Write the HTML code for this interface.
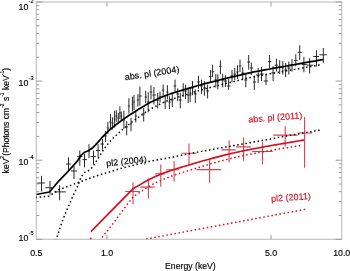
<!DOCTYPE html>
<html><head><meta charset="utf-8"><style>html,body{margin:0;padding:0;background:#fff;width:350px;height:271px;overflow:hidden}svg{display:block;will-change:transform}</style></head>
<body><svg width="350" height="271" viewBox="0 0 350 271"><defs><clipPath id="c"><rect x="36.3" y="2" width="305.4" height="237.3"/></clipPath></defs><rect width="350" height="271" fill="#fff"/><rect x="36.3" y="2.0" width="305.4" height="237.3" fill="none" stroke="#c4c4c4" stroke-width="1.2"/><path d="M36.3,239.30h6M341.7,239.30h-6M36.3,215.49h3M341.7,215.49h-3M36.3,201.56h3M341.7,201.56h-3M36.3,191.68h3M341.7,191.68h-3M36.3,184.01h3M341.7,184.01h-3M36.3,177.75h3M341.7,177.75h-3M36.3,172.45h3M341.7,172.45h-3M36.3,167.87h3M341.7,167.87h-3M36.3,163.82h3M341.7,163.82h-3M36.3,160.20h6M341.7,160.20h-6M36.3,136.39h3M341.7,136.39h-3M36.3,122.46h3M341.7,122.46h-3M36.3,112.58h3M341.7,112.58h-3M36.3,104.91h3M341.7,104.91h-3M36.3,98.65h3M341.7,98.65h-3M36.3,93.35h3M341.7,93.35h-3M36.3,88.77h3M341.7,88.77h-3M36.3,84.72h3M341.7,84.72h-3M36.3,81.10h6M341.7,81.10h-6M36.3,57.29h3M341.7,57.29h-3M36.3,43.36h3M341.7,43.36h-3M36.3,33.48h3M341.7,33.48h-3M36.3,25.81h3M341.7,25.81h-3M36.3,19.55h3M341.7,19.55h-3M36.3,14.25h3M341.7,14.25h-3M36.3,9.67h3M341.7,9.67h-3M36.3,5.62h3M341.7,5.62h-3M36.3,2.00h6M341.7,2.00h-6M106.96,239.3v-4.5M106.96,2.0v4.5M271.04,239.3v-4.5M271.04,2.0v4.5" stroke="#9a9a9a" stroke-width="1.0" fill="none"/><text x="28.4" y="10.3" font-family="Liberation Sans, sans-serif" font-size="8.8" text-anchor="end" fill="#000" stroke="#000" stroke-width="0.15">10</text><text x="28.6" y="3.4" font-family="Liberation Sans, sans-serif" font-size="5.6" fill="#000" stroke="#000" stroke-width="0.15">-2</text><text x="28.4" y="86.2" font-family="Liberation Sans, sans-serif" font-size="8.8" text-anchor="end" fill="#000" stroke="#000" stroke-width="0.15">10</text><text x="28.6" y="80.1" font-family="Liberation Sans, sans-serif" font-size="5.6" fill="#000" stroke="#000" stroke-width="0.15">-3</text><text x="28.4" y="165.3" font-family="Liberation Sans, sans-serif" font-size="8.8" text-anchor="end" fill="#000" stroke="#000" stroke-width="0.15">10</text><text x="28.6" y="158.9" font-family="Liberation Sans, sans-serif" font-size="5.6" fill="#000" stroke="#000" stroke-width="0.15">-4</text><text x="28.4" y="240.5" font-family="Liberation Sans, sans-serif" font-size="8.8" text-anchor="end" fill="#000" stroke="#000" stroke-width="0.15">10</text><text x="28.6" y="234.8" font-family="Liberation Sans, sans-serif" font-size="5.6" fill="#000" stroke="#000" stroke-width="0.15">-5</text><text x="36.3" y="255.8" font-family="Liberation Sans, sans-serif" font-size="8.8" text-anchor="middle" fill="#000" stroke="#000" stroke-width="0.15">0.5</text><text x="107.0" y="255.8" font-family="Liberation Sans, sans-serif" font-size="8.8" text-anchor="middle" fill="#000" stroke="#000" stroke-width="0.15">1.0</text><text x="271.0" y="255.8" font-family="Liberation Sans, sans-serif" font-size="8.8" text-anchor="middle" fill="#000" stroke="#000" stroke-width="0.15">5.0</text><text x="341.7" y="255.8" font-family="Liberation Sans, sans-serif" font-size="8.8" text-anchor="middle" fill="#000" stroke="#000" stroke-width="0.15">10.0</text><text x="190.4" y="268.8" font-family="Liberation Sans, sans-serif" font-size="8.7" text-anchor="middle" fill="#000" stroke="#000" stroke-width="0.15">Energy (keV)</text><text transform="translate(8.9,120.65) rotate(-90)" font-family="Liberation Sans, sans-serif" font-size="8.55" text-anchor="middle" fill="#000" stroke="#000" stroke-width="0.15">keV<tspan font-size="5" dy="-5">2</tspan><tspan dy="5">(Photons cm</tspan><tspan font-size="5" dy="-5">-2</tspan><tspan dy="5"> s</tspan><tspan font-size="5" dy="-5">-1</tspan><tspan dy="5"> keV</tspan><tspan font-size="5" dy="-5">-1</tspan><tspan dy="5">)</tspan></text><text transform="translate(125.2,80.3) rotate(-8.5)" font-family="Liberation Sans, sans-serif" font-size="9" fill="#000" stroke="#000" stroke-width="0.15">abs. pl (2004)</text><text transform="translate(106.6,166.4) rotate(-6)" font-family="Liberation Sans, sans-serif" font-size="9" fill="#000" stroke="#000" stroke-width="0.15">pl2 (2004)</text><text transform="translate(248.4,122.6) rotate(-4.6)" font-family="Liberation Sans, sans-serif" font-size="9" fill="#d2101e" stroke="#d2101e" stroke-width="0.15">abs. pl (2011)</text><text transform="translate(271.2,201.8) rotate(-4)" font-family="Liberation Sans, sans-serif" font-size="9" fill="#d2101e" stroke="#d2101e" stroke-width="0.15">pl2 (2011)</text><path d="M41.50,175.90V191.60M37.20,183.00H44.90M50.00,180.90V194.60M45.40,187.70H52.30M59.60,185.20V200.30M54.50,191.90H65.80M68.50,157.40V171.00M65.80,164.00H70.90M74.00,166.00V179.00M70.90,171.00H77.00M79.80,150.50V165.70M77.40,156.60H82.40M84.50,154.00V167.40M82.40,159.60H87.00M89.00,144.20V158.00M88.00,151.00H90.00M93.50,150.50V164.00M90.50,156.60H96.00M98.10,144.20V157.00M96.00,150.50H100.30M102.50,138.80V149.50M100.30,144.00H104.00M105.60,131.00V142.00M104.00,136.00H106.80M107.90,121.80V134.00M106.80,128.00H109.20M110.50,114.00V130.20M109.20,122.00H111.40M112.40,117.30V129.50M111.40,123.00H113.50M114.60,110.80V127.60M113.50,119.00H115.40M116.30,110.20V121.80M115.40,116.00H117.30M118.30,112.80V123.70M117.30,118.00H119.10M119.90,106.30V119.20M119.10,113.00H120.90M121.30,111.50V120.50M120.40,116.00H122.40M123.90,110.70V129.00M122.90,120.00H125.00M126.70,121.10V135.40M125.40,127.00H127.80M128.90,98.30V113.50M127.80,106.00H129.80M131.00,117.70V131.30M129.80,124.00H131.70M132.40,96.60V111.60M131.70,104.00H133.20M134.00,95.00V110.00M133.20,102.00H134.90M135.80,111.00V122.40M134.90,116.00H136.80M137.90,94.10V106.60M136.80,100.00H138.90M139.90,86.70V105.80M138.90,96.00H141.70M143.70,108.00V121.60M141.70,114.00H144.70M145.70,90.80V103.30M144.70,97.00H147.00M148.20,92.50V112.40M147.00,102.00H149.60M151.00,85.20V99.40M149.60,92.00H152.40M153.90,87.00V104.50M152.40,95.00H155.80M157.70,92.90V108.40M155.80,100.00H158.90M160.00,91.60V102.60M158.90,97.00H161.60M163.20,84.50V95.50M161.60,90.00H164.20M165.20,95.50V109.00M164.20,102.00H166.30M167.40,85.20V99.40M166.30,92.00H168.40M169.40,96.10V109.00M168.40,102.00H170.80M172.30,94.20V107.10M170.80,100.00H173.60M175.00,79.60V92.30M173.60,86.00H176.30M177.70,88.40V101.30M176.30,94.00H179.00M180.30,92.90V108.40M179.00,100.00H181.70M183.20,83.20V96.80M181.70,90.00H184.30M185.50,84.80V99.00M184.30,91.00H186.80M188.20,88.00V102.90M186.80,95.00H189.20M190.20,88.00V102.30M189.20,95.00H191.30M192.50,81.00V95.20M191.30,88.00H193.90M195.30,89.40V102.90M193.90,93.90H196.90M198.50,75.80V88.70M196.90,82.00H200.00M201.50,79.70V93.90M200.00,86.00H203.00M204.40,81.00V95.80M203.00,88.00H206.00M207.60,84.80V98.40M206.00,91.00H209.20M210.60,69.90V83.00M209.20,76.50H211.60M212.60,64.70V77.00M211.60,71.80H214.20M215.80,74.00V87.50M214.20,80.00H216.80M217.80,74.30V89.40M216.80,82.00H219.10M220.40,60.30V74.30M219.10,66.20H221.60M222.70,73.70V87.50M221.60,80.00H224.00M225.40,75.00V87.00M224.00,81.00H227.00M228.60,79.00V90.00M227.00,86.00H230.30M232.00,70.00V82.20M230.30,76.00H233.50M234.80,68.00V80.00M233.50,74.00H236.20M237.50,65.40V79.00M236.20,72.00H238.80M240.00,59.60V72.00M238.80,66.00H241.30M242.70,67.20V80.00M241.30,73.00H244.30M245.80,74.00V87.30M244.30,80.00H247.20M248.70,55.00V69.70M247.20,62.00H250.00M251.30,62.50V75.00M250.00,68.00H253.00M254.30,75.60V90.00M253.00,82.00H256.00M258.20,68.10V82.90M256.00,75.00H260.00M261.50,66.80V81.00M260.00,74.00H263.80M266.00,73.90V85.00M263.80,81.00H268.00M269.60,55.00V68.50M268.00,61.60H271.40M273.10,66.10V81.00M271.40,73.00H274.70M276.40,58.60V71.50M274.70,65.20H278.00M279.70,60.20V73.90M278.00,67.00H281.20M282.80,61.00V74.50M281.20,67.00H284.20M285.60,62.90V77.10M284.20,70.00H287.20M288.80,61.60V74.50M287.20,68.00H290.50M292.00,59.20V71.50M290.50,65.00H293.90M295.80,54.20V66.50M294.10,60.60H297.50M299.70,45.20V60.00M297.70,52.30H301.80M303.90,56.80V72.30M301.80,64.50H306.80M309.60,58.10V73.50M306.80,65.20H313.20M316.50,50.30V66.50M313.20,56.50H319.00M323.30,48.00V63.20M319.40,54.80H326.80" fill="none" stroke="#2a2a2a" stroke-width="1.0" clip-path="url(#c)"/><path d="M133.00,182.20V204.20M125.30,191.50H140.00M148.40,178.40V198.60M140.40,187.10H154.70M160.80,164.60V186.70M155.40,173.90H165.20M174.10,160.90V181.50M166.00,169.70H179.20M189.00,143.50V164.70M181.60,153.20H196.40M209.60,159.00V182.70M196.50,169.60H221.00M229.10,140.30V162.40M221.60,149.90H235.70M243.60,137.60V160.80M236.00,146.90H250.70M262.50,141.60V164.50M252.20,151.50H272.90M285.20,126.20V146.60M273.30,135.10H297.70M304.60,117.00V167.80M297.70,133.00H312.40" fill="none" stroke="#d84050" stroke-width="1.1" clip-path="url(#c)"/><path d="M36.30,194.50 L49.40,192.00 L59.40,180.30 L69.40,170.00 L77.90,160.30 L81.10,155.30 L84.60,152.20 L88.20,150.80 L91.70,148.60 L95.30,145.10 L95.60,144.77 L95.98,144.35 L96.45,143.84 L96.96,143.28 L97.51,142.67 L98.08,142.04 L98.65,141.41 L99.20,140.80 L99.72,140.21 L100.23,139.61 L100.74,139.01 L101.26,138.39 L101.82,137.74 L102.42,137.07 L103.07,136.36 L103.80,135.60 L104.60,134.79 L105.45,133.93 L106.36,133.03 L107.31,132.11 L108.31,131.16 L109.34,130.20 L110.41,129.25 L111.50,128.30 L112.66,127.34 L113.89,126.35 L115.18,125.34 L116.50,124.33 L117.82,123.33 L119.11,122.37 L120.34,121.45 L121.50,120.60 L122.55,119.83 L123.53,119.13 L124.44,118.49 L125.33,117.87 L126.22,117.27 L127.15,116.65 L128.13,116.00 L129.20,115.30 L130.36,114.54 L131.59,113.75 L132.86,112.94 L134.17,112.11 L135.51,111.27 L136.85,110.43 L138.19,109.61 L139.50,108.80 L140.77,108.01 L142.01,107.24 L143.24,106.47 L144.47,105.71 L145.75,104.95 L147.08,104.18 L148.49,103.40 L150.00,102.60 L151.64,101.77 L153.38,100.92 L155.20,100.05 L157.08,99.17 L159.00,98.30 L160.92,97.46 L162.83,96.65 L164.70,95.90 L166.51,95.21 L168.26,94.57 L169.99,93.98 L171.74,93.41 L173.53,92.84 L175.40,92.26 L177.38,91.65 L179.50,91.00 L181.76,90.30 L184.12,89.58 L186.57,88.84 L189.11,88.09 L191.73,87.32 L194.42,86.55 L197.18,85.77 L200.00,85.00 L202.91,84.22 L205.93,83.44 L209.05,82.64 L212.22,81.84 L215.43,81.05 L218.64,80.25 L221.84,79.47 L225.00,78.70 L228.16,77.93 L231.37,77.15 L234.59,76.37 L237.81,75.59 L240.99,74.84 L244.10,74.12 L247.11,73.43 L250.00,72.80 L252.71,72.23 L255.23,71.72 L257.65,71.25 L260.00,70.81 L262.35,70.38 L264.77,69.95 L267.29,69.49 L270.00,69.00 L272.86,68.47 L275.82,67.94 L278.86,67.39 L281.97,66.83 L285.16,66.25 L288.39,65.68 L291.68,65.09 L295.00,64.50 L298.58,63.86 L302.53,63.17 L306.65,62.44 L310.76,61.72 L314.68,61.03 L318.22,60.41 L321.19,59.89 L323.40,59.50" fill="none" stroke="#000" stroke-width="1.75" stroke-linejoin="round" clip-path="url(#c)"/><path d="M36.30,197.40 L48.90,196.10 L59.10,189.70 L77.10,182.90 L96.00,176.00 L120.00,168.70 L148.30,161.60 L170.00,157.60 L195.00,152.60 L225.00,147.10 L245.00,143.60 L270.00,139.10 L285.00,136.20 L322.10,129.70" fill="none" stroke="#000" stroke-width="1.5" stroke-dasharray="0.01 4.1" stroke-linecap="square" clip-path="url(#c)"/><path d="M54.00,248.08 L54.50,246.17 L55.00,244.32 L55.50,242.53 L56.00,240.79 L56.50,239.09 L57.00,237.44 L57.50,235.82 L58.00,234.25 L58.50,232.71 L59.00,231.20 L59.50,229.46 L60.00,227.93 L60.50,226.43 L61.00,224.97 L61.50,223.54 L62.00,222.14 L62.50,220.78 L63.00,219.44 L63.50,218.13 L64.00,216.84 L64.50,215.58 L65.00,214.34 L65.50,213.12 L66.00,211.93 L66.50,210.75 L67.00,209.59 L67.50,208.45 L68.00,207.33 L68.50,206.22 L69.00,205.13 L69.50,204.02 L70.00,202.81 L70.50,201.62 L71.00,200.44 L71.50,199.29 L72.00,198.15 L72.50,197.02 L73.00,195.91 L73.50,194.81 L74.00,193.73 L74.50,192.66 L75.00,191.60 L75.50,190.56 L76.00,189.52 L76.50,188.50 L77.00,187.49 L77.50,186.48 L78.00,185.40 L78.50,183.98 L79.00,182.58 L79.50,181.20 L80.00,179.85 L80.50,178.51 L81.00,177.19 L81.50,176.40 L82.00,175.73 L82.50,175.06 L83.00,174.40 L83.50,173.75 L84.00,173.09 L84.50,172.44 L85.00,172.15 L85.50,171.94 L86.00,171.74 L86.50,171.53 L87.00,171.33 L87.50,171.13 L88.00,170.92 L88.50,170.59 L89.00,170.17 L89.50,169.75 L90.00,169.34 L90.50,168.92 L91.00,168.51 L91.50,168.09 L92.00,167.50 L92.50,166.79 L93.00,166.08 L93.50,165.37 L94.00,164.67 L94.50,163.97 L95.00,163.28 L95.50,162.55 L96.00,161.75 L96.50,160.94 L97.00,160.14 L97.50,159.34 L98.00,158.54 L98.50,157.74 L99.00,156.95 L99.50,156.14 L100.00,155.32 L100.50,154.48 L101.00,153.65 L101.50,152.83 L102.00,152.03 L102.50,151.26 L103.00,150.52 L103.50,149.81 L104.00,149.11 L104.50,148.43 L105.00,147.76 L105.50,147.10 L106.00,146.44 L106.50,145.79 L107.00,145.15 L107.50,144.52 L108.00,143.90 L108.50,143.30 L109.00,142.70 L109.50,142.11 L110.00,141.54 L110.50,140.97 L111.00,140.42 L111.50,139.88 L112.00,139.36 L112.50,138.84 L113.00,138.33 L113.50,137.84 L114.00,137.34 L114.50,136.86 L115.00,136.38 L115.50,135.90 L116.00,135.44 L116.50,134.97 L117.00,134.51 L117.50,134.05 L118.00,133.59 L118.50,133.14 L119.00,132.69 L119.50,132.24 L120.00,131.80 L120.50,131.35 L121.00,130.90 L121.50,130.45 L122.00,130.01 L122.50,129.56 L123.00,129.13 L123.50,128.69 L124.00,128.27 L124.50,127.85 L125.00,127.43 L125.50,127.02 L126.00,126.62 L126.50,126.22 L127.00,125.82 L127.50,125.42 L128.00,125.03 L128.50,124.64 L129.00,124.26 L129.50,123.87 L130.00,123.49 L130.50,123.10 L131.00,122.72 L131.50,122.35 L132.00,121.97 L132.50,121.60 L133.00,121.23 L133.50,120.86 L134.00,120.49 L134.50,120.12 L135.00,119.76 L135.50,119.39 L136.00,119.03 L136.50,118.67 L137.00,118.31 L137.50,117.95 L138.00,117.60 L138.50,117.24 L139.00,116.89 L139.50,116.54 L140.00,116.18 L140.50,115.83 L141.00,115.47 L141.50,115.11 L142.00,114.75 L142.50,114.40 L143.00,114.04 L143.50,113.69 L144.00,113.33 L144.50,112.98 L145.00,112.64 L145.50,112.30 L146.00,111.96 L146.50,111.64 L147.00,111.31 L147.50,110.99 L148.00,110.68 L148.50,110.37 L149.00,110.07 L149.50,109.77 L150.00,109.47 L150.50,109.18 L151.00,108.89 L151.50,108.60 L152.00,108.32 L152.50,108.04 L153.00,107.76 L153.50,107.49 L154.00,107.22 L154.50,106.95 L155.00,106.68 L155.50,106.41 L156.00,106.15 L156.50,105.89 L157.00,105.62 L157.50,105.37 L158.00,105.12 L158.50,104.86 L159.00,104.61 L159.50,104.36 L160.00,104.12 L160.50,103.88 L161.00,103.63 L161.50,103.40 L162.00,103.16 L162.50,102.93 L163.00,102.70 L163.50,102.48 L164.00,102.25 L164.50,102.03 L165.00,101.82 L165.50,101.61 L166.00,101.40 L166.50,101.19 L167.00,100.99 L167.50,100.79 L168.00,100.59 L168.50,100.40 L169.00,100.21 L169.50,100.03 L170.00,99.84 L170.50,99.66 L171.00,99.49 L171.50,99.31 L172.00,99.14 L172.50,98.97 L173.00,98.80 L173.50,98.63 L174.00,98.47 L174.50,98.30 L175.00,98.14 L175.50,97.97 L176.00,97.81 L176.50,97.65 L177.00,97.48 L177.50,97.32 L178.00,97.16 L178.50,96.99 L179.00,96.83 L179.50,96.67 L180.00,96.50 L180.50,96.34 L181.00,96.18 L181.50,96.01 L182.00,95.85 L182.50,95.69 L183.00,95.53 L183.50,95.36 L184.00,95.20 L184.50,95.04 L185.00,94.88 L185.50,94.72 L186.00,94.56 L186.50,94.40 L187.00,94.24 L187.50,94.09 L188.00,93.93 L188.50,93.77 L189.00,93.62 L189.50,93.46 L190.00,93.31 L190.50,93.15 L191.00,93.00 L191.50,92.84 L192.00,92.69 L192.50,92.54 L193.00,92.39 L193.50,92.24 L194.00,92.09 L194.50,91.93 L195.00,91.79 L195.50,91.64 L196.00,91.49 L196.50,91.34 L197.00,91.19 L197.50,91.05 L198.00,90.90 L198.50,90.76 L199.00,90.61 L199.50,90.47 L200.00,90.32 L200.50,90.18 L201.00,90.04 L201.50,89.90 L202.00,89.76 L202.50,89.62 L203.00,89.48 L203.50,89.35 L204.00,89.21 L204.50,89.07 L205.00,88.94 L205.50,88.80 L206.00,88.66 L206.50,88.53 L207.00,88.40 L207.50,88.26 L208.00,88.13 L208.50,87.99 L209.00,87.86 L209.50,87.73 L210.00,87.60 L210.50,87.47 L211.00,87.34 L211.50,87.20 L212.00,87.07 L212.50,86.94 L213.00,86.81 L213.50,86.68 L214.00,86.55 L214.50,86.42 L215.00,86.29 L215.50,86.17 L216.00,86.04 L216.50,85.91 L217.00,85.78 L217.50,85.65 L218.00,85.52 L218.50,85.40 L219.00,85.27 L219.50,85.14 L220.00,85.01 L220.50,84.89 L221.00,84.76 L221.50,84.63 L222.00,84.50 L222.50,84.38 L223.00,84.25 L223.50,84.12 L224.00,84.00 L224.50,83.87 L225.00,83.74 L225.50,83.62 L226.00,83.49 L226.50,83.36 L227.00,83.23 L227.50,83.11 L228.00,82.98 L228.50,82.85 L229.00,82.72 L229.50,82.60 L230.00,82.47 L230.50,82.34 L231.00,82.22 L231.50,82.09 L232.00,81.96 L232.50,81.84 L233.00,81.71 L233.50,81.58 L234.00,81.46 L234.50,81.33 L235.00,81.21 L235.50,81.08 L236.00,80.96 L236.50,80.83 L237.00,80.71 L237.50,80.58 L238.00,80.46 L238.50,80.33 L239.00,80.21 L239.50,80.09 L240.00,79.96 L240.50,79.84 L241.00,79.72 L241.50,79.60 L242.00,79.48 L242.50,79.36 L243.00,79.24 L243.50,79.11 L244.00,78.99 L244.50,78.88 L245.00,78.76 L245.50,78.64 L246.00,78.52 L246.50,78.41 L247.00,78.29 L247.50,78.18 L248.00,78.06 L248.50,77.95 L249.00,77.84 L249.50,77.72 L250.00,77.61 L250.50,77.50 L251.00,77.40 L251.50,77.29 L252.00,77.18 L252.50,77.07 L253.00,76.97 L253.50,76.87 L254.00,76.76 L254.50,76.66 L255.00,76.56 L255.50,76.46 L256.00,76.36 L256.50,76.26 L257.00,76.16 L257.50,76.07 L258.00,75.97 L258.50,75.88 L259.00,75.78 L259.50,75.69 L260.00,75.60 L260.50,75.51 L261.00,75.41 L261.50,75.32 L262.00,75.23 L262.50,75.14 L263.00,75.05 L263.50,74.96 L264.00,74.87 L264.50,74.78 L265.00,74.69 L265.50,74.60 L266.00,74.51 L266.50,74.42 L267.00,74.33 L267.50,74.24 L268.00,74.15 L268.50,74.06 L269.00,73.97 L269.50,73.87 L270.00,73.78 L270.50,73.69 L271.00,73.60 L271.50,73.51 L272.00,73.42 L272.50,73.33 L273.00,73.24 L273.50,73.15 L274.00,73.06 L274.50,72.97 L275.00,72.87 L275.50,72.78 L276.00,72.69 L276.50,72.61 L277.00,72.52 L277.50,72.43 L278.00,72.34 L278.50,72.25 L279.00,72.16 L279.50,72.07 L280.00,71.98 L280.50,71.89 L281.00,71.80 L281.50,71.71 L282.00,71.62 L282.50,71.54 L283.00,71.45 L283.50,71.36 L284.00,71.27 L284.50,71.18 L285.00,71.09 L285.50,71.00 L286.00,70.91 L286.50,70.82 L287.00,70.73 L287.50,70.64 L288.00,70.55 L288.50,70.47 L289.00,70.38 L289.50,70.29 L290.00,70.20 L290.50,70.11 L291.00,70.02 L291.50,69.93 L292.00,69.84 L292.50,69.75 L293.00,69.66 L293.50,69.57 L294.00,69.48 L294.50,69.39 L295.00,69.30 L295.50,69.22 L296.00,69.13 L296.50,69.04 L297.00,68.95 L297.50,68.86 L298.00,68.77 L298.50,68.68 L299.00,68.59 L299.50,68.51 L300.00,68.42 L300.50,68.33 L301.00,68.24 L301.50,68.15 L302.00,68.06 L302.50,67.98 L303.00,67.89 L303.50,67.80 L304.00,67.71 L304.50,67.62 L305.00,67.53 L305.50,67.45 L306.00,67.36 L306.50,67.27 L307.00,67.18 L307.50,67.09 L308.00,67.01 L308.50,66.92 L309.00,66.83 L309.50,66.74 L310.00,66.65 L310.50,66.57 L311.00,66.48 L311.50,66.39 L312.00,66.30 L312.50,66.22 L313.00,66.13 L313.50,66.04 L314.00,65.95 L314.50,65.86 L315.00,65.78 L315.50,65.69 L316.00,65.60 L316.50,65.51 L317.00,65.43 L317.50,65.34 L318.00,65.25 L318.50,65.16 L319.00,65.07 L319.50,64.99 L320.00,64.90 L320.50,64.81 L321.00,64.72" fill="none" stroke="#000" stroke-width="1.5" stroke-dasharray="0.01 4.1" stroke-linecap="square" clip-path="url(#c)"/><path d="M90.90,231.60 L132.90,188.80 L133.49,188.46 L134.27,188.01 L135.20,187.47 L136.23,186.87 L137.32,186.24 L138.43,185.60 L139.50,184.98 L140.50,184.40 L141.41,183.87 L142.29,183.34 L143.14,182.83 L144.00,182.31 L144.89,181.79 L145.84,181.25 L146.87,180.69 L148.00,180.10 L149.23,179.48 L150.52,178.83 L151.88,178.16 L153.31,177.47 L154.79,176.78 L156.34,176.08 L157.94,175.39 L159.60,174.70 L161.35,174.01 L163.19,173.31 L165.11,172.60 L167.09,171.89 L169.09,171.19 L171.09,170.51 L173.07,169.84 L175.00,169.20 L176.93,168.58 L178.90,167.97 L180.87,167.37 L182.84,166.79 L184.76,166.23 L186.61,165.69 L188.37,165.18 L190.00,164.70 L191.46,164.27 L192.73,163.89 L193.90,163.55 L195.00,163.23 L196.10,162.91 L197.27,162.58 L198.54,162.21 L200.00,161.80 L201.64,161.33 L203.40,160.83 L205.26,160.30 L207.19,159.76 L209.16,159.20 L211.13,158.65 L213.09,158.11 L215.00,157.60 L216.88,157.10 L218.75,156.61 L220.62,156.12 L222.50,155.64 L224.38,155.17 L226.25,154.71 L228.12,154.25 L230.00,153.80 L231.88,153.36 L233.75,152.93 L235.62,152.51 L237.50,152.09 L239.38,151.69 L241.25,151.29 L243.12,150.89 L245.00,150.50 L246.88,150.12 L248.75,149.74 L250.62,149.37 L252.50,149.01 L254.38,148.66 L256.25,148.30 L258.12,147.95 L260.00,147.60 L261.88,147.25 L263.75,146.91 L265.62,146.56 L267.50,146.22 L269.38,145.89 L271.25,145.56 L273.12,145.23 L275.00,144.90 L276.88,144.58 L278.77,144.26 L280.66,143.94 L282.56,143.63 L284.44,143.32 L286.31,143.01 L288.17,142.71 L290.00,142.40 L291.90,142.08 L293.92,141.74 L295.97,141.39 L297.99,141.04 L299.88,140.72 L301.59,140.43 L303.02,140.18 L304.10,140.00" fill="none" stroke="#d2101e" stroke-width="1.65" stroke-linejoin="round" clip-path="url(#c)"/><path d="M100.00,240.16 L100.50,239.50 L101.00,238.84 L101.50,238.19 L102.00,237.53 L102.50,236.88 L103.00,236.22 L103.50,235.57 L104.00,234.91 L104.50,234.26 L105.00,233.60 L105.50,232.95 L106.00,232.29 L106.50,231.75 L107.00,231.18 L107.50,230.61 L108.00,230.02 L108.50,229.42 L109.00,228.81 L109.50,228.19 L110.00,227.56 L110.50,226.92 L111.00,226.27 L111.50,225.62 L112.00,224.96 L112.50,224.29 L113.00,223.62 L113.50,222.94 L114.00,222.26 L114.50,221.58 L115.00,220.89 L115.50,220.20 L116.00,219.51 L116.50,218.80 L117.00,218.10 L117.50,217.39 L118.00,216.70 L118.50,216.00 L119.00,215.31 L119.50,214.62 L120.00,213.94 L120.50,213.26 L121.00,212.58 L121.50,211.90 L122.00,211.23 L122.50,210.56 L123.00,209.89 L123.50,209.22 L124.00,208.56 L124.50,207.90 L125.00,207.24 L125.50,206.59 L126.00,205.94 L126.50,205.28 L127.00,204.64 L127.50,203.99 L128.00,203.35 L128.50,202.70 L129.00,202.06 L129.50,201.43 L130.00,200.79 L130.50,200.16 L131.00,199.52 L131.50,198.90 L132.00,198.27 L132.50,197.64 L133.00,197.07 L133.50,196.73 L134.00,196.39 L134.50,196.04 L135.00,195.70 L135.50,195.36 L136.00,195.02 L136.50,194.68 L137.00,194.33 L137.50,193.99 L138.00,193.65 L138.50,193.32 L139.00,192.98 L139.50,192.64 L140.00,192.30 L140.50,191.96 L141.00,191.62 L141.50,191.28 L142.00,190.93 L142.50,190.58 L143.00,190.23 L143.50,189.88 L144.00,189.53 L144.50,189.19 L145.00,188.85 L145.50,188.53 L146.00,188.20 L146.50,187.89 L147.00,187.58 L147.50,187.28 L148.00,186.99 L148.50,186.70 L149.00,186.41 L149.50,186.12 L150.00,185.84 L150.50,185.55 L151.00,185.27 L151.50,185.00 L152.00,184.72 L152.50,184.45 L153.00,184.18 L153.50,183.91 L154.00,183.64 L154.50,183.38 L155.00,183.12 L155.50,182.87 L156.00,182.62 L156.50,182.37 L157.00,182.13 L157.50,181.88 L158.00,181.64 L158.50,181.41 L159.00,181.18 L159.50,180.95 L160.00,180.73 L160.50,180.52 L161.00,180.30 L161.50,180.08 L162.00,179.87 L162.50,179.66 L163.00,179.46 L163.50,179.25 L164.00,179.05 L164.50,178.85 L165.00,178.65 L165.50,178.45 L166.00,178.25 L166.50,178.06 L167.00,177.86 L167.50,177.67 L168.00,177.48 L168.50,177.29 L169.00,177.10 L169.50,176.91 L170.00,176.73 L170.50,176.54 L171.00,176.36 L171.50,176.17 L172.00,175.99 L172.50,175.81 L173.00,175.63 L173.50,175.45 L174.00,175.27 L174.50,175.09 L175.00,174.91 L175.50,174.74 L176.00,174.56 L176.50,174.39 L177.00,174.22 L177.50,174.05 L178.00,173.89 L178.50,173.72 L179.00,173.55 L179.50,173.39 L180.00,173.23 L180.50,173.07 L181.00,172.91 L181.50,172.75 L182.00,172.59 L182.50,172.44 L183.00,172.28 L183.50,172.12 L184.00,171.97 L184.50,171.81 L185.00,171.66 L185.50,171.50 L186.00,171.35 L186.50,171.20 L187.00,171.04 L187.50,170.89 L188.00,170.73 L188.50,170.58 L189.00,170.42 L189.50,170.27 L190.00,170.11 L190.50,169.95 L191.00,169.80 L191.50,169.64 L192.00,169.48 L192.50,169.33 L193.00,169.17 L193.50,169.02 L194.00,168.86 L194.50,168.71 L195.00,168.55 L195.50,168.40 L196.00,168.25 L196.50,168.09 L197.00,167.94 L197.50,167.79 L198.00,167.64 L198.50,167.49 L199.00,167.34 L199.50,167.19 L200.00,167.04 L200.50,166.89 L201.00,166.74 L201.50,166.59 L202.00,166.44 L202.50,166.29 L203.00,166.14 L203.50,165.99 L204.00,165.83 L204.50,165.68 L205.00,165.53 L205.50,165.38 L206.00,165.24 L206.50,165.09 L207.00,164.94 L207.50,164.79 L208.00,164.64 L208.50,164.49 L209.00,164.34 L209.50,164.20 L210.00,164.05 L210.50,163.90 L211.00,163.76 L211.50,163.61 L212.00,163.47 L212.50,163.32 L213.00,163.18 L213.50,163.04 L214.00,162.90 L214.50,162.75 L215.00,162.61 L215.50,162.47 L216.00,162.34 L216.50,162.20 L217.00,162.06 L217.50,161.92 L218.00,161.78 L218.50,161.65 L219.00,161.51 L219.50,161.37 L220.00,161.24 L220.50,161.10 L221.00,160.97 L221.50,160.84 L222.00,160.70 L222.50,160.57 L223.00,160.44 L223.50,160.31 L224.00,160.18 L224.50,160.05 L225.00,159.92 L225.50,159.79 L226.00,159.66 L226.50,159.53 L227.00,159.41 L227.50,159.28 L228.00,159.15 L228.50,159.03 L229.00,158.91 L229.50,158.78 L230.00,158.66 L230.50,158.54 L231.00,158.42 L231.50,158.30 L232.00,158.18 L232.50,158.06 L233.00,157.94 L233.50,157.82 L234.00,157.71 L234.50,157.59 L235.00,157.47 L235.50,157.36 L236.00,157.25 L236.50,157.13 L237.00,157.02 L237.50,156.91 L238.00,156.79 L238.50,156.68 L239.00,156.57 L239.50,156.46 L240.00,156.35 L240.50,156.24 L241.00,156.14 L241.50,156.03 L242.00,155.92 L242.50,155.81 L243.00,155.71 L243.50,155.60 L244.00,155.49 L244.50,155.39 L245.00,155.28 L245.50,155.18 L246.00,155.08 L246.50,154.97 L247.00,154.87 L247.50,154.77 L248.00,154.67 L248.50,154.57 L249.00,154.47 L249.50,154.37 L250.00,154.27 L250.50,154.17 L251.00,154.07 L251.50,153.98 L252.00,153.88 L252.50,153.78 L253.00,153.69 L253.50,153.59 L254.00,153.50 L254.50,153.40 L255.00,153.31 L255.50,153.21 L256.00,153.12 L256.50,153.02 L257.00,152.93 L257.50,152.84 L258.00,152.74 L258.50,152.65 L259.00,152.55 L259.50,152.46 L260.00,152.37 L260.50,152.27 L261.00,152.18 L261.50,152.09 L262.00,152.00 L262.50,151.90 L263.00,151.81 L263.50,151.72 L264.00,151.63 L264.50,151.54 L265.00,151.45 L265.50,151.36 L266.00,151.27 L266.50,151.18 L267.00,151.09 L267.50,151.00 L268.00,150.91 L268.50,150.82 L269.00,150.73 L269.50,150.64 L270.00,150.55 L270.50,150.46 L271.00,150.38 L271.50,150.29 L272.00,150.20 L272.50,150.11 L273.00,150.03 L273.50,149.94 L274.00,149.85 L274.50,149.77 L275.00,149.68 L275.50,149.60 L276.00,149.51 L276.50,149.43 L277.00,149.34 L277.50,149.26 L278.00,149.18 L278.50,149.10 L279.00,149.01 L279.50,148.93 L280.00,148.85 L280.50,148.77 L281.00,148.69 L281.50,148.61 L282.00,148.52 L282.50,148.44 L283.00,148.36 L283.50,148.28 L284.00,148.20 L284.50,148.12 L285.00,148.04 L285.50,147.96 L286.00,147.88 L286.50,147.80 L287.00,147.72 L287.50,147.64 L288.00,147.56 L288.50,147.47 L289.00,147.39 L289.50,147.31 L290.00,147.23 L290.50,147.14 L291.00,147.06 L291.50,146.98 L292.00,146.89 L292.50,146.81 L293.00,146.73 L293.50,146.64 L294.00,146.56 L294.50,146.48 L295.00,146.39 L295.50,146.31 L296.00,146.23 L296.50,146.14 L297.00,146.06 L297.50,145.97 L298.00,145.89 L298.50,145.81 L299.00,145.72 L299.50,145.64 L300.00,145.55 L300.50,145.47 L301.00,145.38 L301.50,145.30 L302.00,145.22 L302.50,145.13 L303.00,145.05 L303.50,144.96" fill="none" stroke="#d2101e" stroke-width="1.5" stroke-dasharray="0.01 4.1" stroke-linecap="square" clip-path="url(#c)"/><path d="M146.90,238.90 L305.00,209.40" fill="none" stroke="#d2101e" stroke-width="1.5" stroke-dasharray="0.01 4.1" stroke-linecap="square" clip-path="url(#c)"/><circle cx="90.7" cy="238.4" r="0.9" fill="#d2101e"/></svg></body></html>
